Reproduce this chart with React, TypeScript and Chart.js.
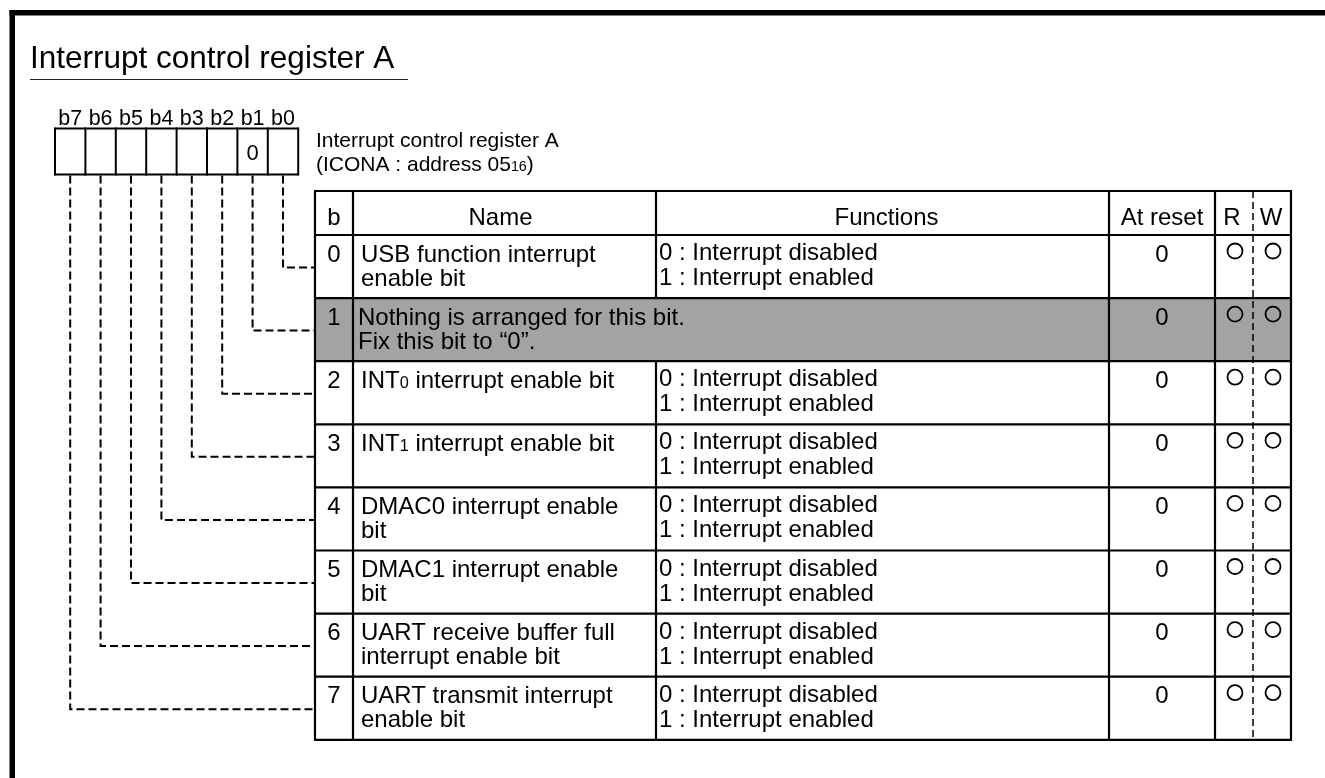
import React, { useEffect, useRef } from "react";
import { Chart, registerables } from "chart.js";

Chart.register(...registerables);

// ---------------- data ----------------
const titleText = "Interrupt control register A";
const registerCaption = ["Interrupt control register A", "(ICONA : address 05_{16})"];
const bitLabels = ["b7", "b6", "b5", "b4", "b3", "b2", "b1", "b0"];
const bitBoxValues = ["", "", "", "", "", "", "0", ""];
const headerLabels = ["b", "Name", "Functions", "At reset", "R", "W"];
const bitNumbers = ["0", "1", "2", "3", "4", "5", "6", "7"];
const bitNames = [
  ["USB function interrupt", "enable bit"],
  ["Nothing is arranged for this bit.", "Fix this bit to \u201C0\u201D."],
  ["INT_{0} interrupt enable bit"],
  ["INT_{1} interrupt enable bit"],
  ["DMAC0 interrupt enable", "bit"],
  ["DMAC1 interrupt enable", "bit"],
  ["UART receive buffer full", "interrupt enable bit"],
  ["UART transmit interrupt", "enable bit"],
];
const enableFunctions = ["0 : Interrupt disabled", "1 : Interrupt enabled"];
const bitFunctions = [
  enableFunctions,
  [],
  enableFunctions,
  enableFunctions,
  enableFunctions,
  enableFunctions,
  enableFunctions,
  enableFunctions,
];
const resetValues = ["0", "0", "0", "0", "0", "0", "0", "0"];
const readFlags = ["O", "O", "O", "O", "O", "O", "O", "O"];
const writeFlags = ["O", "O", "O", "O", "O", "O", "O", "O"];
const reservedBits = [false, true, false, false, false, false, false, false];

// ---------------- layout / style ----------------
const W = 1325;
const H = 778;
const FONT = "'Liberation Sans', Arial, Helvetica, sans-serif";
const FRAME = { x: 9.5, y: 10, t: 5.5 };
const TITLE = { x: 30, y: 68, size: 31.5, ulY: 79.5, ulX2: 408 };
const BOX = { x0: 55, w: 30.4, top: 128.5, bottom: 174.5, labelY: 125, labelSize: 21.5, valueSize: 22, valueY: 160 };
const CAPTION = { x: 316, y1: 147, y2: 171, size: 21 };
const TABLE = {
  top: 191,
  headBottom: 235,
  rowH: 63.1,
  cols: [315, 353, 656, 1109, 1215, 1253, 1291],
  lw: 2.2,
  size: 24,
};
const GRAY = "#a3a3a3";
const rowTop = (i: number) => TABLE.headBottom + i * TABLE.rowH;
const tableBottom = () => rowTop(bitNumbers.length);

function parseRich(s: string) {
  const segs: { t: string; sub: boolean }[] = [];
  const re = /_\{([^}]*)\}/g;
  let last = 0;
  let m: RegExpExecArray | null;
  while ((m = re.exec(s))) {
    if (m.index > last) segs.push({ t: s.slice(last, m.index), sub: false });
    segs.push({ t: m[1], sub: true });
    last = m.index + m[0].length;
  }
  if (last < s.length) segs.push({ t: s.slice(last), sub: false });
  return segs;
}

function drawRich(ctx: CanvasRenderingContext2D, s: string, x: number, y: number, size: number, align: "left" | "center") {
  const segs = parseRich(s);
  const fontFor = (sub: boolean) => `${sub ? size * 0.68 : size}px ${FONT}`;
  let total = 0;
  const widths = segs.map((sg) => {
    ctx.font = fontFor(sg.sub);
    const w = ctx.measureText(sg.t).width;
    total += w;
    return w;
  });
  let cx = align === "center" ? x - total / 2 : x;
  ctx.textAlign = "left";
  ctx.textBaseline = "alphabetic";
  segs.forEach((sg, i) => {
    ctx.font = fontFor(sg.sub);
    ctx.fillText(sg.t, cx, y);
    cx += widths[i];
  });
}

const diagramPlugin = {
  id: "registerDiagram",
  beforeDatasetsDraw(chart: any) {
    const ctx: CanvasRenderingContext2D = chart.ctx;
    const xs = chart.scales.x;
    const ys = chart.scales.y;
    const px = (v: number) => xs.getPixelForValue(v);
    const py = (v: number) => ys.getPixelForValue(v);
    const line = (x1: number, y1: number, x2: number, y2: number, lw: number) => {
      ctx.beginPath();
      ctx.lineWidth = lw;
      ctx.moveTo(px(x1), py(y1));
      ctx.lineTo(px(x2), py(y2));
      ctx.stroke();
    };
    ctx.save();
    ctx.fillStyle = "#000";
    ctx.strokeStyle = "#000";

    // frame
    ctx.fillRect(px(FRAME.x), py(FRAME.y), px(W) - px(FRAME.x), FRAME.t);
    ctx.fillRect(px(FRAME.x), py(FRAME.y), FRAME.t, py(H) - py(FRAME.y));

    // title
    drawRich(ctx, titleText, px(TITLE.x), py(TITLE.y), TITLE.size, "left");
    ctx.strokeStyle = "#222";
    line(TITLE.x, TITLE.ulY, TITLE.ulX2, TITLE.ulY, 1.2);
    ctx.strokeStyle = "#000";

    // bit boxes
    bitLabels.forEach((lbl, c) => {
      const cx = BOX.x0 + BOX.w * (c + 0.5);
      drawRich(ctx, lbl, px(cx), py(BOX.labelY), BOX.labelSize, "center");
      if (bitBoxValues[c]) drawRich(ctx, bitBoxValues[c], px(cx), py(BOX.valueY), BOX.valueSize, "center");
    });
    const boxRight = BOX.x0 + BOX.w * bitLabels.length;
    line(BOX.x0, BOX.top, boxRight, BOX.top, 2);
    line(BOX.x0, BOX.bottom, boxRight, BOX.bottom, 2);
    for (let c = 0; c <= bitLabels.length; c++) {
      const x = BOX.x0 + BOX.w * c;
      line(x, BOX.top - 1, x, BOX.bottom + 1, 2);
    }

    // caption
    drawRich(ctx, registerCaption[0], px(CAPTION.x), py(CAPTION.y1), CAPTION.size, "left");
    drawRich(ctx, registerCaption[1], px(CAPTION.x), py(CAPTION.y2), CAPTION.size, "left");

    // table fills
    const [c0, c1, c2, c3, c4, , c6] = TABLE.cols;
    reservedBits.forEach((r, i) => {
      if (!r) return;
      ctx.fillStyle = GRAY;
      ctx.fillRect(px(c0), py(rowTop(i)), px(c6) - px(c0), py(rowTop(i + 1)) - py(rowTop(i)));
    });
    ctx.fillStyle = "#000";

    // table lines
    const bot = tableBottom();
    const lw = TABLE.lw;
    line(c0 - 1, TABLE.top, c6 + 1, TABLE.top, lw);
    line(c0 - 1, TABLE.headBottom, c6 + 1, TABLE.headBottom, lw);
    for (let i = 1; i <= bitNumbers.length; i++) line(c0 - 1, rowTop(i), c6 + 1, rowTop(i), lw);
    [c0, c1, c3, c4, c6].forEach((x) => line(x, TABLE.top, x, bot, lw));
    line(c2, TABLE.top, c2, TABLE.headBottom, lw);
    bitNumbers.forEach((_, i) => {
      if (!reservedBits[i]) line(c2, rowTop(i), c2, rowTop(i + 1), lw);
    });

    // header text
    const hdrY = TABLE.top + 34;
    const centers = [
      (c0 + c1) / 2,
      (c1 + c2) / 2 - 4,
      (c2 + c3) / 2 + 4,
      (c3 + c4) / 2,
      (c4 + TABLE.cols[5]) / 2 - 2,
      (TABLE.cols[5] + c6) / 2 - 1,
    ];
    headerLabels.forEach((h, k) => drawRich(ctx, h, px(centers[k]), py(hdrY), TABLE.size, "center"));

    // rows
    bitNumbers.forEach((b, i) => {
      const t = rowTop(i);
      drawRich(ctx, b, px(centers[0]), py(t + 26.5), TABLE.size, "center");
      const nx = reservedBits[i] ? c1 + 5 : c1 + 8;
      bitNames[i].forEach((ln, k) => drawRich(ctx, ln, px(nx), py(t + 26.5 + k * 24), TABLE.size, "left"));
      bitFunctions[i].forEach((ln, k) => drawRich(ctx, ln, px(c2 + 3), py(t + 25 + k * 25), TABLE.size, "left"));
      drawRich(ctx, resetValues[i], px((c3 + c4) / 2), py(t + 26.5), TABLE.size, "center");
    });
    ctx.restore();
  },
};

export default function App() {
  const ref = useRef<HTMLCanvasElement | null>(null);
  useEffect(() => {
    document.body.style.margin = "0";
    document.body.style.overflow = "hidden";
    const canvas = ref.current;
    if (!canvas) return;

    const leaderSets = bitLabels.map((_, c) => {
      const bit = bitLabels.length - 1 - c;
      const cx = BOX.x0 + BOX.w * (c + 0.5);
      const ly = rowTop(bit) + 32.5;
      return {
        label: `leader-${bit}`,
        data: [
          { x: cx, y: BOX.bottom + 1 },
          { x: cx, y: ly },
          { x: TABLE.cols[0], y: ly },
        ],
        showLine: true,
        borderColor: "#000",
        borderWidth: 2,
        borderDash: [8, 4],
        pointRadius: 0,
        fill: false,
        tension: 0,
        clip: false as any,
      };
    });

    const rX = (TABLE.cols[4] + TABLE.cols[5]) / 2 + 1;
    const wX = (TABLE.cols[5] + TABLE.cols[6]) / 2 + 1;
    const circleData: { x: number; y: number }[] = [];
    readFlags.forEach((f, i) => {
      if (f === "O") circleData.push({ x: rX, y: rowTop(i) + 16 });
    });
    writeFlags.forEach((f, i) => {
      if (f === "O") circleData.push({ x: wX, y: rowTop(i) + 16 });
    });

    const chart = new Chart(canvas, {
      type: "scatter",
      data: {
        datasets: [
          ...leaderSets,
          {
            label: "rw-divider",
            data: [
              { x: TABLE.cols[5], y: TABLE.top },
              { x: TABLE.cols[5], y: tableBottom() + 1 },
            ],
            showLine: true,
            borderColor: "#000",
            borderWidth: 1.5,
            borderDash: [7, 4],
            pointRadius: 0,
            fill: false,
            clip: false as any,
          },
          {
            label: "rw-marks",
            data: circleData,
            showLine: false,
            pointStyle: "circle",
            pointRadius: 7.5,
            pointBorderWidth: 1.8,
            pointBorderColor: "#000",
            pointBackgroundColor: "rgba(0,0,0,0)",
            borderColor: "#000",
            backgroundColor: "rgba(0,0,0,0)",
            clip: false as any,
          } as any,
        ],
      },
      options: {
        animation: false,
        responsive: false,
        maintainAspectRatio: false,
        events: [],
        layout: { padding: 0, autoPadding: false } as any,
        plugins: { legend: { display: false }, tooltip: { enabled: false } },
        scales: {
          x: { type: "linear", min: 0, max: W, display: false },
          y: { type: "linear", min: 0, max: H, reverse: true, display: false },
        },
      },
      plugins: [diagramPlugin],
    });
    return () => chart.destroy();
  }, []);

  return <canvas ref={ref} width={W} height={H} style={{ display: "block" }} />;
}
